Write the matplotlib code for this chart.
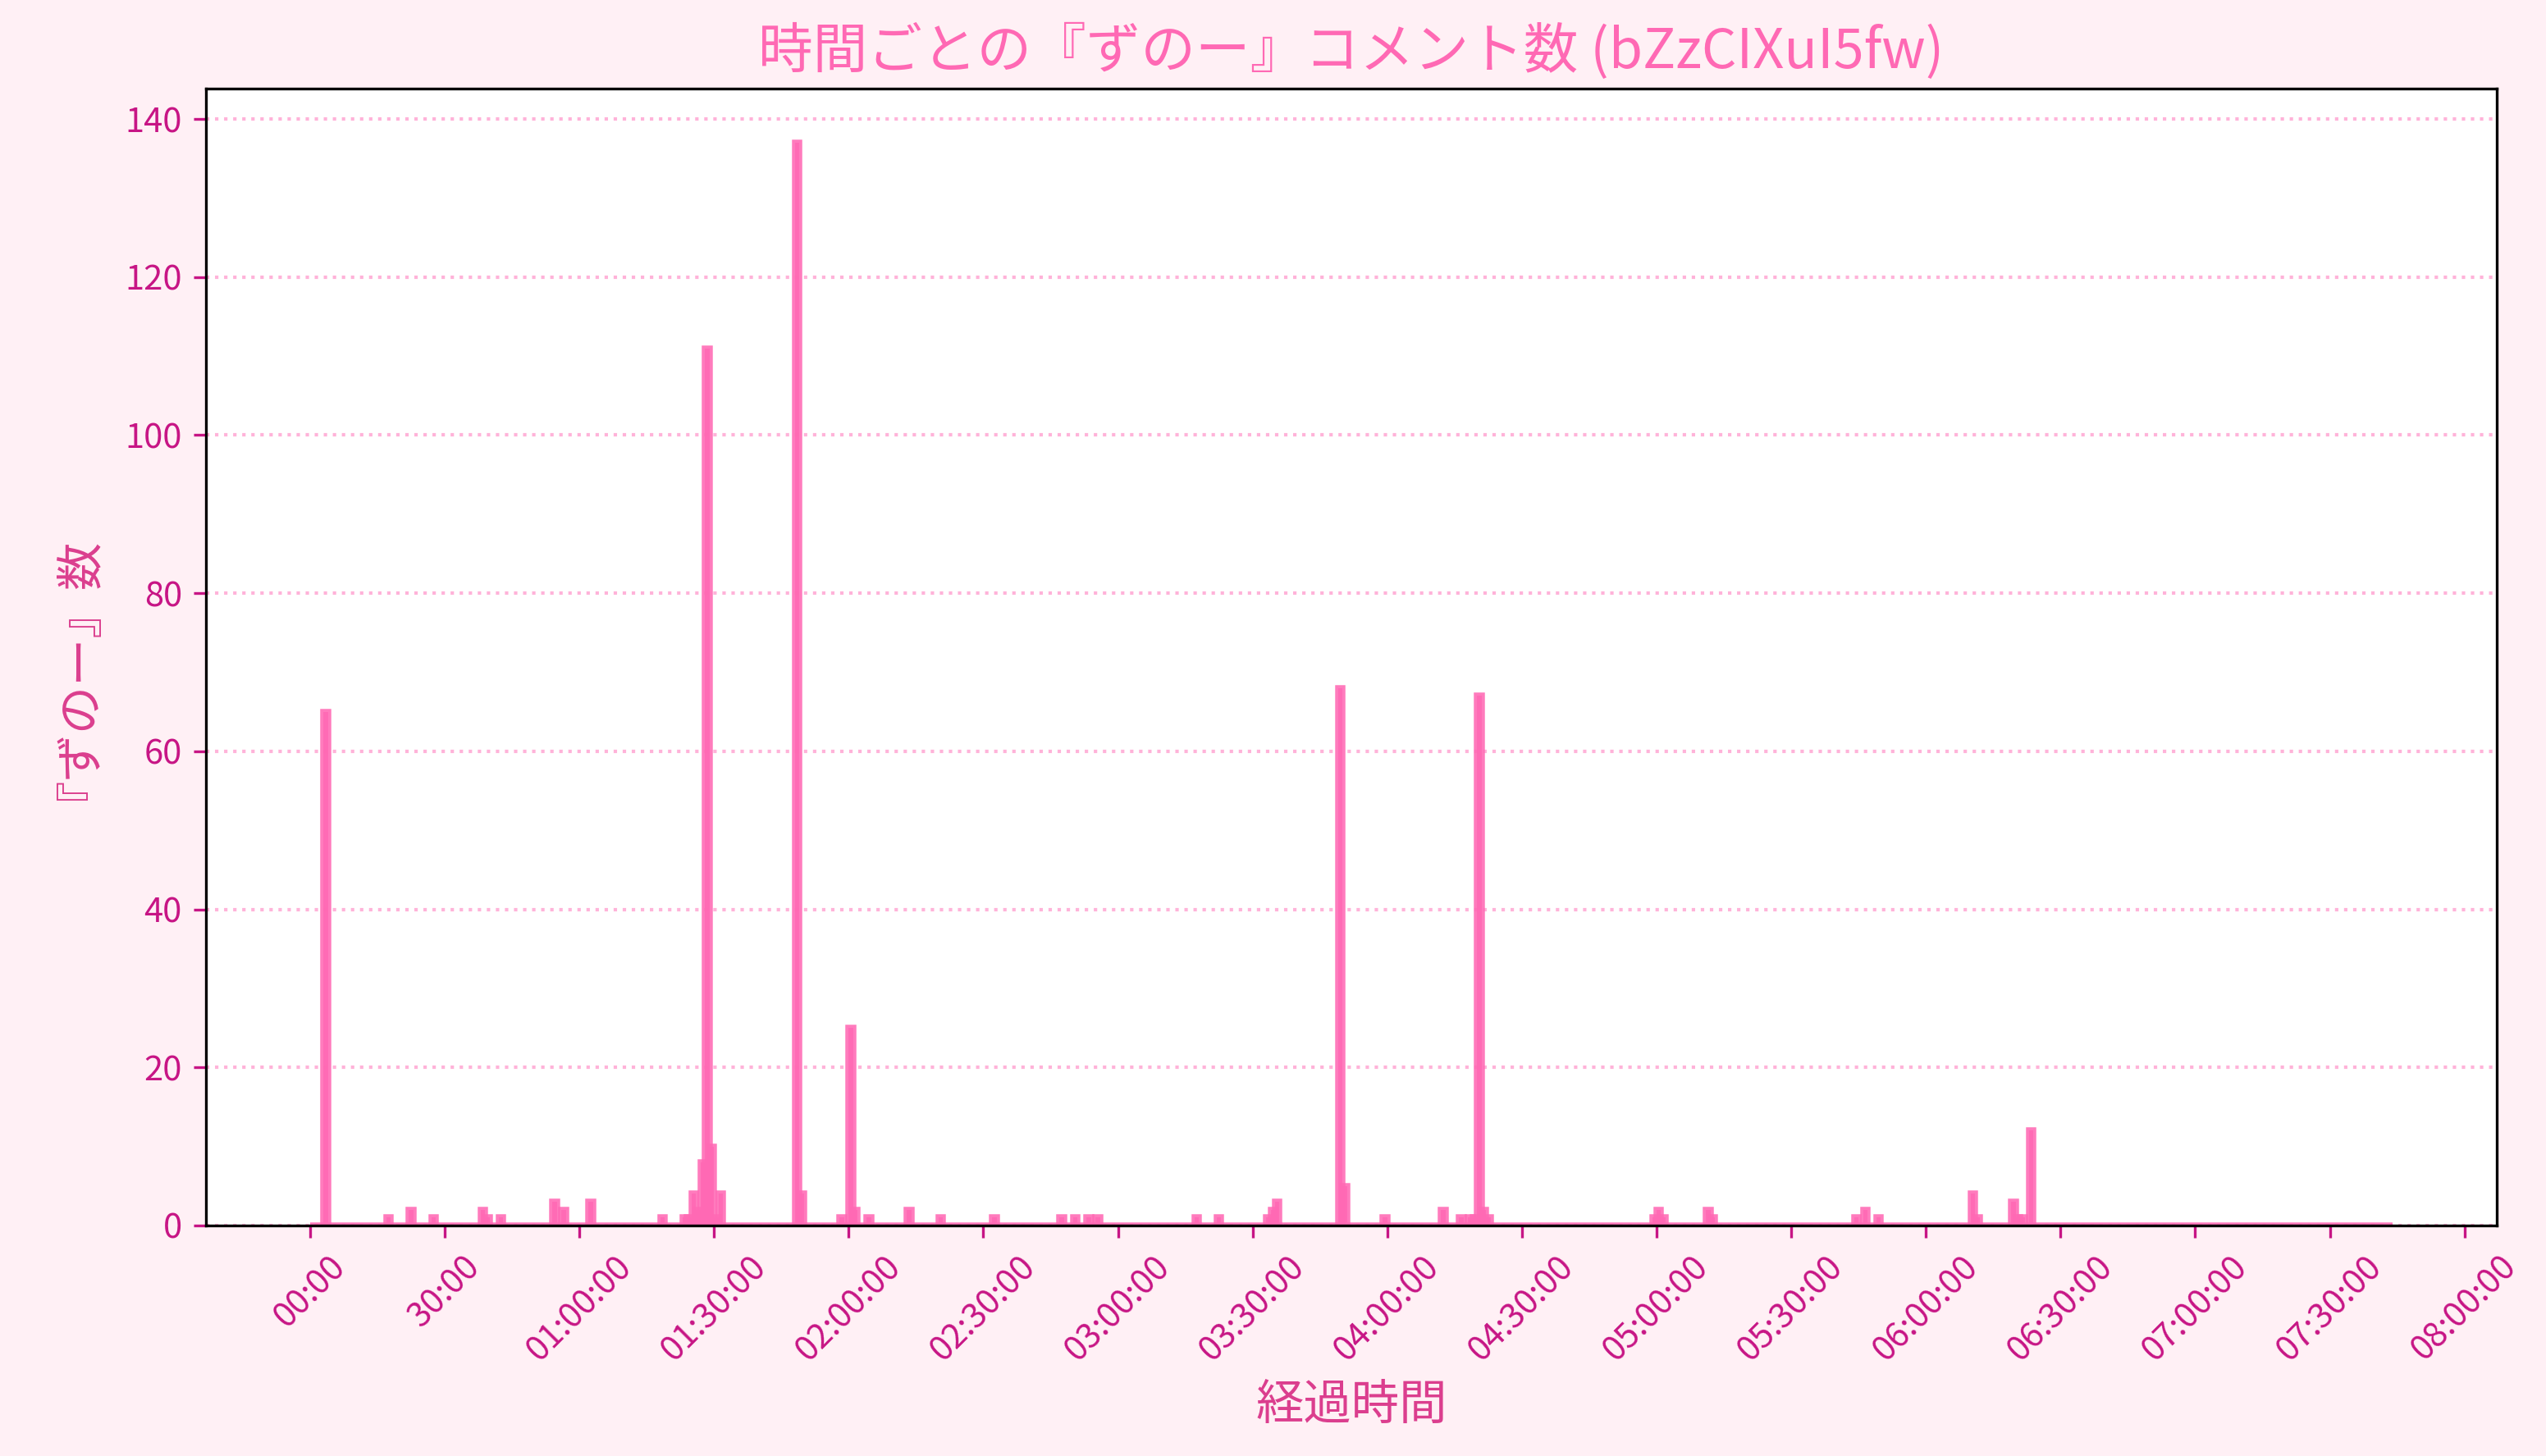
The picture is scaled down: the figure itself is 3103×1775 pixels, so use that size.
import matplotlib
matplotlib.use("Agg")
import matplotlib.pyplot as plt
from matplotlib.ticker import FuncFormatter, MultipleLocator
import numpy as np

plt.rcParams['font.family'] = ['Noto Sans CJK JP', 'DejaVu Sans']

# 1-minute bins, stream length in minutes
n_minutes = 464
# minutes that have at least one comment, and their counts
hit_minutes = [3, 17, 22, 27, 38, 39, 42, 54, 56, 62,
               78, 83, 84, 85, 86, 87, 88, 89, 90, 91,
               108, 109, 118, 120, 121, 124, 133, 140, 152,
               167, 170, 173, 175, 197, 202, 213, 214, 215,
               229, 230, 239, 252, 256, 258, 259, 260, 261, 262,
               299, 300, 301, 311, 312, 344, 346, 349,
               370, 371, 379, 380, 381, 383]
hit_counts = [65, 1, 2, 1, 2, 1, 1, 3, 2, 3,
              1, 1, 1, 4, 2, 8, 111, 10, 1, 4,
              137, 4, 1, 25, 2, 1, 2, 1, 1,
              1, 1, 1, 1, 1, 1, 1, 2, 3,
              68, 5, 1, 2, 1, 1, 1, 67, 2, 1,
              1, 2, 1, 2, 1, 1, 2, 1,
              4, 1, 3, 1, 1, 12]

title = "時間ごとの『ずのー』コメント数 (bZzCIXuI5fw)"
xlabel = "経過時間"
ylabel = "『ずのー』数"

counts = np.zeros(n_minutes)
counts[hit_minutes] = hit_counts
secs = np.arange(n_minutes) * 60


def fmt_time(v, pos):
    s = int(round(v))
    h, rem = divmod(s, 3600)
    m, sec = divmod(rem, 60)
    if h > 0:
        return f"{h:02d}:{m:02d}:{sec:02d}"
    return f"{m:02d}:{sec:02d}"


fig = plt.figure(figsize=(3104 / 300, 1775 / 300), dpi=300, facecolor='#fff0f5')
ax = fig.add_axes([251 / 3104, 1 - 1494 / 1775, (3043 - 251) / 3104, (1494 - 108) / 1775])
ax.set_facecolor('white')

ax.bar(secs, counts, width=60, align='edge', color='#ff69b4', edgecolor='#ff69b4',
       linewidth=1.8, alpha=0.88)

ax.xaxis.set_major_locator(MultipleLocator(1800))
ax.xaxis.set_major_formatter(FuncFormatter(fmt_time))
ax.tick_params(axis='both', colors='#c71585', labelsize=10)
plt.setp(ax.get_xticklabels(), rotation=45, ha='center')

ax.grid(axis='y', linestyle=':', color='#ff69b4', alpha=0.5, linewidth=1)
ax.set_axisbelow(True)

ax.set_title(title, fontsize=16, color='#ff69b4')
ax.set_xlabel(xlabel, fontsize=14, color='#db3e8e')
ax.set_ylabel(ylabel, fontsize=14, color='#db3e8e', labelpad=13)

fig.savefig("out.png", dpi=300, facecolor=fig.get_facecolor())
